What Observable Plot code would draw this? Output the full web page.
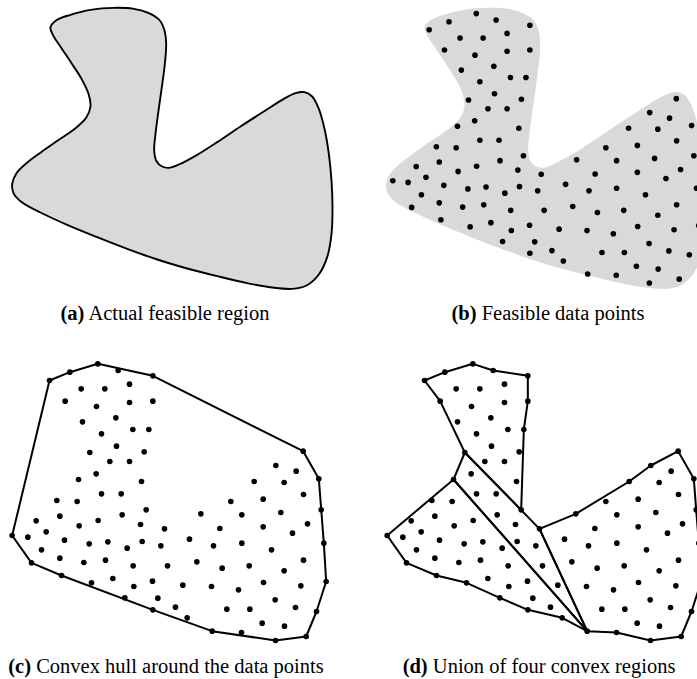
<!DOCTYPE html>
<html>
<head>
<meta charset="utf-8">
<script src="https://cdn.jsdelivr.net/npm/d3@7"></script>
<script src="https://cdn.jsdelivr.net/npm/@observablehq/plot@0.6"></script>
<style>
  html, body { margin: 0; padding: 0; background: white; overflow: hidden; }
  #fig { position: relative; width: 697px; height: 679px; overflow: hidden; }
  .panel { position: absolute; }
  .panel svg { display: block; max-width: none !important; }
  .cap { position: absolute; width: 400px; text-align: center; font-family: "Liberation Serif", "Times New Roman", serif;
         font-size: 20.5px; line-height: 20.5px; color: black; white-space: nowrap; }
  .cap b { font-weight: bold; }
</style>
</head>
<body>
<div id="fig"></div>
<script>
// ---- Data -------------------------------------------------------------
// Outline of the actual feasible region (panel a units)
const regionOutline = [
  [150,80],[170,58],[210,43],[270,28],[340,22],[400,25],[445,38],[478,60],[492,90],[497,130],
  [493,190],[484,260],[474,330],[465,400],[461,450],[468,482],[485,498],[505,502],[535,492],
  [585,466],[650,425],[720,378],[790,333],[845,298],[885,278],[912,275],[935,288],[955,325],
  [972,385],[985,460],[993,540],[996,620],[993,700],[980,770],[955,822],[918,855],[875,865],
  [815,861],[740,848],[650,827],[560,804],[470,777],[380,745],[290,710],[200,673],[120,636],
  [65,606],[40,580],[35,550],[48,518],[78,488],[122,455],[175,418],[225,383],[257,352],
  [270,318],[264,280],[243,235],[213,188],[183,143],[157,103]
];

// Feasible data points (panel c units)
const dataPoints = [
  [147,150],[208,125],[292,100],[353,120],[457,136],[908,362],[955,445],[962,538],[970,638],
  [977,753],[948,843],[917,918],[825,930],[723,906],[635,902],[560,862],[457,838],[373,802],
  [273,757],[183,735],[93,697],[35,615],
  [242,175],[313,175],[387,161],
  [194,212],[288,228],[387,216],[457,212],
  [246,274],[346,262],
  [303,310],[397,297],[445,297],
  [348,347],[268,366],[431,364],
  [328,393],[387,393],
  [287,430],[234,447],[423,453],
  [303,490],[362,490],
  [169,510],[230,513],
  [437,538],[365,553],[178,557],[293,570],[107,571],[236,586],[420,582],[492,595],
  [137,604],[82,620],[192,629],[266,640],[322,634],[380,653],[425,633],[481,646],
  [123,658],[178,683],[250,696],[315,689],[398,706],[501,706],
  [337,744],[400,768],[456,752],
  [472,803],[525,830],
  [826,405],[887,422],
  [761,453],[851,456],
  [909,492],[788,506],[691,513],
  [841,546],[724,553],[601,550],
  [921,580],[788,589],[658,594],[876,608],
  [567,626],[639,646],[724,638],
  [813,658],
  [909,689],[589,694],[746,706],[665,713],
  [851,721],
  [789,756],[901,766],[547,764],[633,768],[714,778],
  [824,808],[885,831],
  [679,836],[748,836],
  [785,878],[852,887]
];

// Four convex regions (panel d), vertices given as data points
const regionTop = [[147,150],[208,125],[292,100],[353,120],[457,136],[457,212],[445,297],[437,538],[268,366],[194,212]];
const regionStrip = [[268,366],[492,595],[635,902],[234,447]];
const regionLower = [[234,447],[635,902],[560,862],[457,838],[373,802],[273,757],[183,735],[93,697],[35,615]];
const regionRight = [[492,595],[601,550],[761,453],[826,405],[908,362],[955,445],[962,538],[970,638],[977,753],[948,843],[917,918],[825,930],[723,906],[635,902]];

const captions = [
  {label: "(a)", text: " Actual feasible region", cx: 165, top: 303},
  {label: "(b)", text: " Feasible data points", cx: 548, top: 303},
  {label: "(c)", text: " Convex hull around the data points", cx: 166, top: 656},
  {label: "(d)", text: " Union of four convex regions", cx: 539, top: 656}
];

// ---- Drawing ----------------------------------------------------------
const fig = document.getElementById("fig");
const fx = d => d[0], fy = d => d[1];
const FILL = "#d9d9d9";
const DOT_R = 2.8;
const LINE_W = 2;

function place(svg, left, top) {
  const div = document.createElement("div");
  div.className = "panel";
  div.style.left = left + "px";
  div.style.top = top + "px";
  div.appendChild(svg);
  fig.appendChild(div);
}

function frame(width, height, xRange, yRange, yMax, marks) {
  return Plot.plot({
    width, height, margin: 0,
    style: {background: "transparent", overflow: "hidden"},
    x: {domain: [0, 1020], range: xRange, axis: null},
    y: {domain: [0, yMax], range: yRange, axis: null},
    marks
  });
}

// (a) actual feasible region
place(frame(340, 300, [0, 340], [0, 300], 900, [
  Plot.line(regionOutline, {x: fx, y: fy, curve: "catmull-rom-closed", fill: FILL, stroke: "black", strokeWidth: 1.9})
]), 0, 0);

// (b) region (no outline) + data points
place(frame(323, 300, [0, 340], [0, 300], 900, [
  Plot.line(regionOutline, {x: fx, y: fy, curve: "catmull-rom-closed", fill: FILL, stroke: "none"})
]), 374, 0);
place(frame(317, 300, [0.97, 332.2], [-19.37, 292.3], 960, [
  Plot.dot(dataPoints, {x: fx, y: fy, r: DOT_R, fill: "black"})
]), 380, 0);

// (c) convex hull around data points
const hull = d3.polygonHull(dataPoints);
place(frame(340, 320, [0, 340], [0, 320], 960, [
  Plot.line(hull, {x: fx, y: fy, curve: "linear-closed", stroke: "black", strokeWidth: LINE_W, strokeLinejoin: "round"}),
  Plot.dot(dataPoints, {x: fx, y: fy, r: DOT_R, fill: "black"})
]), 0, 330);

// (d) union of four convex regions
const regions = [regionTop, regionStrip, regionLower, regionRight]
  .flatMap((poly, i) => poly.map(p => ({x: p[0], y: p[1], region: i})));
place(frame(322, 320, [0, 340], [0, 320], 960, [
  Plot.line(regions, {x: "x", y: "y", z: "region", curve: "linear-closed", stroke: "black", strokeWidth: LINE_W, strokeLinejoin: "round"}),
  Plot.dot(dataPoints, {x: fx, y: fy, r: DOT_R, fill: "black"})
]), 375, 330);

// captions
for (const c of captions) {
  const div = document.createElement("div");
  div.className = "cap";
  div.style.left = (c.cx - 200) + "px";
  div.style.top = c.top + "px";
  const b = document.createElement("b");
  b.textContent = c.label;
  div.appendChild(b);
  div.appendChild(document.createTextNode(c.text));
  fig.appendChild(div);
}
</script>
</body>
</html>
